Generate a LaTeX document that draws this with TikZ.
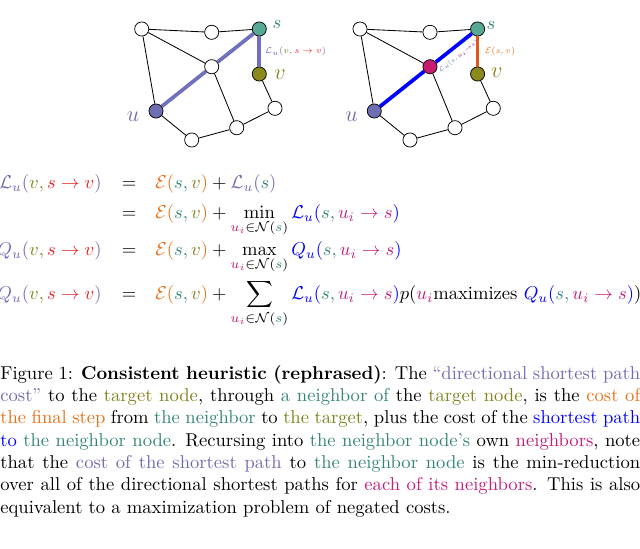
\documentclass[tikz,border=0pt]{standalone}
\usepackage{amsmath}
\usepackage{graphicx}
\usepackage{xcolor}
\definecolor{cpur}{RGB}{108,108,178}
\definecolor{colive}{RGB}{128,128,28}
\definecolor{cteal}{RGB}{52,132,120}
\definecolor{cred}{RGB}{232,32,36}
\definecolor{corange}{RGB}{232,112,24}
\definecolor{cmag}{RGB}{196,28,118}
\definecolor{cblue}{RGB}{0,0,255}
\definecolor{fteal}{RGB}{88,168,150}
\definecolor{folive}{RGB}{138,138,28}
\definecolor{fpur}{RGB}{110,110,178}
\definecolor{fmag}{RGB}{200,28,112}
\definecolor{epur}{RGB}{112,112,190}
\definecolor{eorange}{RGB}{222,88,28}
\newcommand{\Lsv}{\textcolor{cpur}{\mathcal{L}_u(}\textcolor{colive}{v,}\,\textcolor{cred}{s\rightarrow v}\textcolor{cpur}{)}}
\newcommand{\Qsv}{\textcolor{cpur}{Q_u(}\textcolor{colive}{v,}\,\textcolor{cred}{s\rightarrow v}\textcolor{cpur}{)}}
\newcommand{\Esv}{\textcolor{corange}{\mathcal{E}(}\textcolor{cteal}{s,}\,\textcolor{colive}{v}\textcolor{corange}{)}}
\newcommand{\Nsub}{\textcolor{cmag}{u_i}\in\mathcal{N}(\textcolor{cteal}{s})}
\newcommand{\Lui}{\textcolor{cblue}{\mathcal{L}_u(}\textcolor{cteal}{s,}\,\textcolor{cmag}{u_i\rightarrow s}\textcolor{cblue}{)}}
\newcommand{\Qui}{\textcolor{cblue}{Q_u(}\textcolor{cteal}{s,}\,\textcolor{cmag}{u_i\rightarrow s}\textcolor{cblue}{)}}
\begin{document}
\begin{tikzpicture}[x=0.5376pt,y=-0.5376pt,
  vtx/.style={circle,draw=black,line width=0.4pt,fill=white,minimum size=7.6pt,inner sep=0pt},
  thin/.style={line width=0.45pt,draw=black},
  pthick/.style={line width=2pt,draw=epur},
  bthick/.style={line width=2pt,draw=cblue},
  othick/.style={line width=2pt,draw=eorange},
  lab/.style={inner sep=0pt},
  eqn/.style={inner sep=0pt},
  tinylab/.style={font=\fontsize{6}{7}\selectfont},
]
\useasboundingbox (0,0) rectangle (640,549);

% ---------- left graph ----------
\node[vtx] (ltl) at (141.7,29) {};
\node[vtx] (ltm) at (211.7,32.3) {};
\node[vtx,fill=fteal] (ls) at (259.3,29) {};
\node[vtx] (lc) at (211.7,66.7) {};
\node[vtx,fill=folive] (lv) at (259.3,74) {};
\node[vtx,fill=fpur] (lu) at (156,111) {};
\node[vtx] (lrl) at (275,108.3) {};
\node[vtx] (lbm) at (236.7,127.7) {};
\node[vtx] (lbl) at (191.7,140) {};
\draw[thin] (ltl) -- (ltm);
\draw[thin] (ltm) -- (ls);
\draw[thin] (ltl) -- (lc);
\draw[thin] (ltl) -- (lu);
\draw[thin] (lc) -- (lbm);
\draw[thin] (lv) -- (lrl);
\draw[thin] (lrl) -- (lbm);
\draw[thin] (lbm) -- (lbl);
\draw[thin] (lbl) -- (lu);
\draw[pthick] (lu) -- (lc);
\draw[pthick] (lc) -- (ls);
\draw[pthick] (ls) -- node[right,inner sep=2pt,tinylab]{\scalebox{0.78}{$\textcolor{cpur}{\mathcal{L}_u(}\textcolor{colive}{v,}\,\textcolor{cred}{s\rightarrow v}\textcolor{cpur}{)}$}} (lv);
\node[lab,text=cteal] (lsl) at (277,24) {$s$};
\node[lab,text=colive,font=\large] (lvl) at (280,75) {$v$};
\node[lab,text=cpur,font=\large] (lul) at (133,116.7) {$u$};

% ---------- right graph ----------
\node[vtx] (rtl) at (360,29) {};
\node[vtx] (rtm) at (430,32.3) {};
\node[vtx,fill=fteal] (rs) at (477.6,29) {};
\node[vtx,fill=fmag] (rc) at (430,66.7) {};
\node[vtx,fill=folive] (rv) at (477.6,74) {};
\node[vtx,fill=fpur] (ru) at (374.3,111) {};
\node[vtx] (rrl) at (493.3,108.3) {};
\node[vtx] (rbm) at (455,127.7) {};
\node[vtx] (rbl) at (410,140) {};
\draw[thin] (rtl) -- (rtm);
\draw[thin] (rtm) -- (rs);
\draw[thin] (rtl) -- (rc);
\draw[thin] (rtl) -- (ru);
\draw[thin] (rc) -- (rbm);
\draw[thin] (rv) -- (rrl);
\draw[thin] (rrl) -- (rbm);
\draw[thin] (rbm) -- (rbl);
\draw[thin] (rbl) -- (ru);
\draw[bthick] (ru) -- (rc);
\draw[bthick] (rc) -- (rs);
\node[rotate=38.4,inner sep=0pt] (rlab) at (458.6,56.6) {\scalebox{0.66}{$\scriptscriptstyle\textcolor{cpur}{\mathcal{L}_u(}\textcolor{cteal}{s,}\,\textcolor{cmag}{u_i\rightarrow s}\textcolor{cpur}{)}$}};
\draw[othick] (rs) -- node[right,inner sep=3pt,tinylab]{\scalebox{0.76}{$\textcolor{corange}{\mathcal{E}(s,v)}$}} (rv);
\node[lab,text=cteal] (rsl) at (491,25) {$s$};
\node[lab,text=colive,font=\large] (rvl) at (496.7,73) {$v$};
\node[lab,text=cpur,font=\large] (rul) at (351.7,116.7) {$u$};

% ---------- equations ----------
\node[eqn,anchor=base east] (e1l) at (102,188.5) {$\Lsv$};
\node[eqn,anchor=base] (e1e) at (129,188.5) {$=$};
\node[eqn,anchor=base west] (e1r) at (155,188.5) {$\Esv+\textcolor{cpur}{\mathcal{L}_u(}\textcolor{cteal}{s}\textcolor{cpur}{)}$};

\node[eqn,anchor=base] (e2e) at (129,218.5) {$=$};
\node[eqn,anchor=base west] (e2r) at (155,218.5) {$\displaystyle \Esv+\min_{\Nsub}\Lui$};

\node[eqn,anchor=base east] (e3l) at (102,255.5) {$\Qsv$};
\node[eqn,anchor=base] (e3e) at (129,255.5) {$=$};
\node[eqn,anchor=base west] (e3r) at (155,255.5) {$\displaystyle \Esv+\max_{\Nsub}\Qui$};

\node[eqn,anchor=base east] (e4l) at (102,299.5) {$\Qsv$};
\node[eqn,anchor=base] (e4e) at (129,299.5) {$=$};
\node[eqn,anchor=base west] (e4r) at (155,299.5) {$\displaystyle \Esv+\sum_{\Nsub}\Lui p(\textcolor{cmag}{u_i}\text{maximizes }\Qui)$};

% ---------- caption ----------
\node[anchor=north west,inner sep=0pt,text width=344pt,align=justify] (cap) at (0,365) {%
Figure 1: \textbf{Consistent heuristic (rephrased)}: The \textcolor{cpur}{“directional shortest path\linebreak
cost”} to the \textcolor{colive}{target node}, through \textcolor{cteal}{a neighbor of} the \textcolor{colive}{target node}, is the \textcolor{corange}{cost of\linebreak
the final step} from \textcolor{cteal}{the neighbor} to \textcolor{colive}{the target}, plus the cost of the \textcolor{cblue}{shortest path\linebreak
to} \textcolor{cteal}{the neighbor node}. Recursing into \textcolor{cteal}{the neighbor node’s} own \textcolor{cmag}{neighbors}, note\linebreak
that the \textcolor{cpur}{cost of the shortest path} to \textcolor{cteal}{the neighbor node} is the min-reduction\linebreak
over all of the directional shortest paths for \textcolor{cmag}{each of its neighbors}. This is also\linebreak
equivalent to a maximization problem of negated costs.};
\end{tikzpicture}
\end{document}
